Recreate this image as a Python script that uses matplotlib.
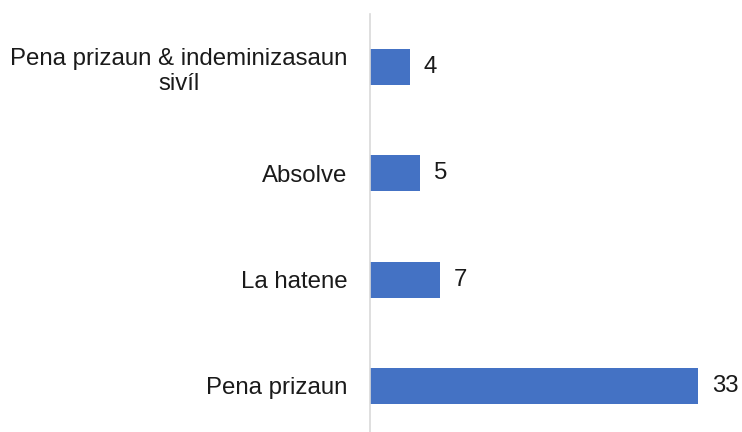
import matplotlib
matplotlib.use("Agg")
import matplotlib.pyplot as plt

categories = ["Pena prizaun", "La hatene", "Absolve", "Pena prizaun & indeminizasaun\nsivíl"]
values = [33, 7, 5, 4]

plt.rcParams['font.family'] = ['Liberation Sans', 'DejaVu Sans']

fig = plt.figure(figsize=(7.42, 4.32), dpi=100)
ax = fig.add_axes([370/742, 0, (728-370)/742, 1 - 14/432])

y = list(range(len(categories)))
bars = ax.barh(y, values, height=0.34, color="#4472C4")
ax.set_xlim(0, 36)
ax.set_ylim(-0.433, 3.5)
ax.set_yticks(y)
ax.set_yticklabels(categories, fontsize=17.3, ha="right", color="#1a1a1a", linespacing=1.2)
for lab in ax.get_yticklabels():
    lab.set_multialignment("center")
ax.tick_params(axis="y", length=0, pad=16)
ax.set_xticks([])
for s in ["top", "right", "bottom"]:
    ax.spines[s].set_visible(False)
ax.spines["left"].set_color("#d9d9d9")
ax.spines["left"].set_linewidth(1.2)

for b, v in zip(bars, values):
    ax.annotate(str(v), (b.get_width(), b.get_y() + b.get_height()/2),
                xytext=(10, 0), textcoords="offset points",
                va="center", ha="left", fontsize=17.3, color="#1a1a1a")

fig.savefig("out.png", dpi=100)
